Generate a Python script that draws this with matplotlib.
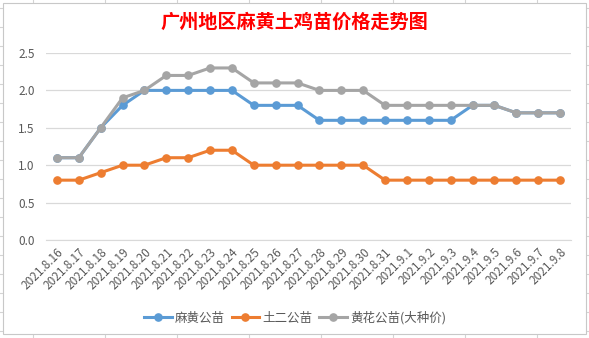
import matplotlib
matplotlib.use('Agg')
import matplotlib.pyplot as plt
from matplotlib.lines import Line2D
from matplotlib.patches import Rectangle

plt.rcParams['font.family'] = ['Noto Sans CJK SC', 'DejaVu Sans']

dates = ['2021.8.16', '2021.8.17', '2021.8.18', '2021.8.19', '2021.8.20', '2021.8.21',
         '2021.8.22', '2021.8.23', '2021.8.24', '2021.8.25', '2021.8.26', '2021.8.27',
         '2021.8.28', '2021.8.29', '2021.8.30', '2021.8.31', '2021.9.1', '2021.9.2',
         '2021.9.3', '2021.9.4', '2021.9.5', '2021.9.6', '2021.9.7', '2021.9.8']

mahuang = [1.1, 1.1, 1.5, 1.8, 2.0, 2.0, 2.0, 2.0, 2.0, 1.8, 1.8, 1.8,
           1.6, 1.6, 1.6, 1.6, 1.6, 1.6, 1.6, 1.8, 1.8, 1.7, 1.7, 1.7]
tuer = [0.8, 0.8, 0.9, 1.0, 1.0, 1.1, 1.1, 1.2, 1.2, 1.0, 1.0, 1.0,
        1.0, 1.0, 1.0, 0.8, 0.8, 0.8, 0.8, 0.8, 0.8, 0.8, 0.8, 0.8]
huanghua = [1.1, 1.1, 1.5, 1.9, 2.0, 2.2, 2.2, 2.3, 2.3, 2.1, 2.1, 2.1,
            2.0, 2.0, 2.0, 1.8, 1.8, 1.8, 1.8, 1.8, 1.8, 1.7, 1.7, 1.7]

series = [
    ('麻黄公苗', mahuang, '#5B9BD5'),
    ('土二公苗', tuer, '#ED7D31'),
    ('黄花公苗(大种价)', huanghua, '#A5A5A5'),
]

W, H = 589, 338
fig = plt.figure(figsize=(W / 100, H / 100), dpi=100)

# spreadsheet cells behind the chart
grid_c = '#D4D4D4'
for x in range(33, W, 72):
    fig.add_artist(Line2D([x / W, x / W], [0, 1], color=grid_c, lw=0.8, zorder=0))
for y in range(8, H, 19):
    fig.add_artist(Line2D([0, 1], [1 - y / H, 1 - y / H], color=grid_c, lw=0.8, zorder=0))
fig.add_artist(Rectangle((3 / W, 1 - 334 / H), 583 / W, 331 / H, transform=fig.transFigure,
                         facecolor='white', edgecolor='#C8C8C8', lw=0.8, zorder=1))

ax = fig.add_axes([46 / W, 1 - 240 / H, 525 / W, 187 / H], zorder=2)
ax.patch.set_alpha(0)

x = list(range(len(dates)))
for label, vals, color in series:
    ax.plot(x, vals, color=color, lw=2.2, marker='o', markersize=5.2, label=label)

ax.set_xlim(-0.5, len(dates) - 0.5)
ax.set_ylim(0, 2.5)
ax.set_yticks([0, 0.5, 1.0, 1.5, 2.0, 2.5])
ax.set_yticklabels(['0.0', '0.5', '1.0', '1.5', '2.0', '2.5'])
ax.grid(axis='y', color='#D9D9D9', lw=0.9)
ax.set_axisbelow(True)
for s in ['top', 'right', 'left']:
    ax.spines[s].set_visible(False)
ax.spines['bottom'].set_color('#D9D9D9')
ax.tick_params(axis='both', length=0, colors='#595959', labelsize=8.5)
ax.tick_params(axis='y', pad=8)
ax.set_xticks(x)
ax.set_xticklabels(dates, rotation=45, ha='right', va='top', rotation_mode='anchor')
ax.tick_params(axis='x', pad=4)

fig.text(294 / W, 1 - 22 / H, '广州地区麻黄土鸡苗价格走势图', color='red', fontsize=13.8,
         fontweight='bold', ha='center', va='center')

fig.legend(loc='center', bbox_to_anchor=(295 / W, 1 - 318 / H), ncol=3, frameon=False,
           fontsize=9, handlelength=2.2, columnspacing=0.55, handletextpad=0.25,
           labelcolor='#595959')

fig.savefig('out.png', dpi=100)
